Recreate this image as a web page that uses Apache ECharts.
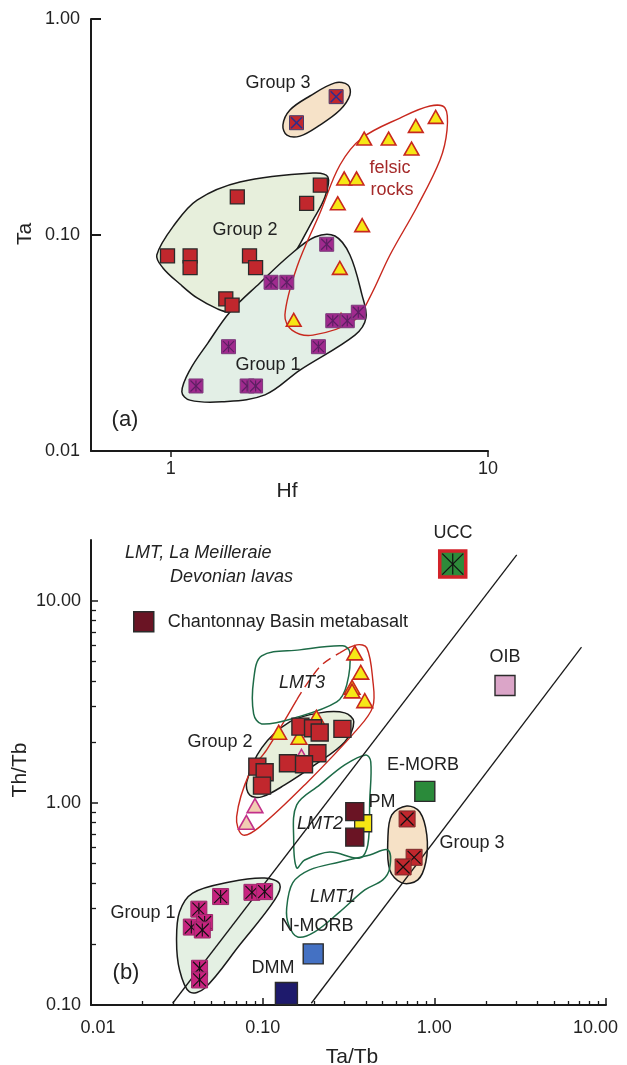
<!DOCTYPE html>
<html><head><meta charset="utf-8">
<script src="https://cdn.jsdelivr.net/npm/echarts@6/dist/echarts.min.js"></script>
<style>html,body{margin:0;padding:0;background:#fff}#c{width:627px;height:1065px}</style>
</head><body><div id="c"></div>
<script>
// ================= DATA =================
// ---- Panel (a): Ta vs Hf ----
const aTicksX = [1, 10];
const aTicksY = [0.01, 0.1, 1];
const aGroup1 = [[3.10,0.0906],[2.07,0.0604],[2.32,0.0604],[3.24,0.0401],[3.60,0.0401],[3.90,0.0439],[2.92,0.0304],[1.52,0.0304],[1.20,0.020],[1.74,0.020],[1.85,0.020]];
const aGroup2 = [[1.62,0.150],[2.68,0.140],[2.96,0.170],[0.976,0.080],[1.15,0.080],[1.15,0.0706],[1.77,0.080],[1.85,0.0706],[1.49,0.0506],[1.56,0.0474]];
const aGroup3 = [[2.49,0.331],[3.32,0.437]];
const aFelsic = [[4.07,0.277],[4.86,0.277],[5.92,0.317],[6.84,0.349],[5.74,0.249],[3.52,0.181],[3.85,0.181],[3.36,0.139],[4.01,0.110],[3.41,0.0698],[2.44,0.0401],[3.44,0.0401]];
const aEnvGroup1 = [[1.536,0.0440],[1.909,0.0600],[2.374,0.0808],[2.846,0.0979],[3.292,0.0989],[3.670,0.0808],[4.005,0.0528],[4.123,0.0413],[3.806,0.0344],[2.553,0.0237],[1.980,0.0182],[1.448,0.0169],[1.148,0.0172],[1.083,0.0188],[1.148,0.0237],[1.308,0.0316]];
const aEnvGroup2 = [[0.903,0.0808],[1.030,0.1124],[1.210,0.1452],[1.651,0.1759],[2.805,0.1936],[3.128,0.1855],[3.061,0.150],[2.805,0.1173],[2.323,0.0726],[1.775,0.0474],[1.536,0.0440],[1.407,0.0454],[1.210,0.0511],[1.068,0.0593],[0.944,0.0704]];
const aEnvGroup3 = [[2.256,0.323],[2.374,0.379],[2.745,0.440],[3.292,0.506],[3.617,0.495],[3.670,0.445],[3.413,0.379],[2.952,0.323],[2.553,0.287],[2.323,0.290]];
const aEnvFelsic = [[2.289,0.0426],[2.498,0.0711],[2.952,0.1264],[3.413,0.2109],[4.005,0.2812],[5.278,0.348],[6.563,0.3956],[7.319,0.3873],[7.426,0.306],[7.058,0.2225],[5.970,0.1348],[4.908,0.0808],[4.244,0.0516],[3.806,0.0404],[2.805,0.0344],[2.409,0.0363]];

// ---- Panel (b): Th/Tb vs Ta/Tb ----
const bTicksX = [0.01, 0.1, 1, 10];
const bMinorX = [0.02,0.03,0.04,0.05,0.06,0.07,0.08,0.09,0.2,0.3,0.4,0.5,0.6,0.7,0.8,0.9,2,3,4,5,6,7,8,9];
const bTicksY = [0.1, 1, 10];
const bMinorY = [0.2,0.3,0.4,0.5,0.6,0.7,0.8,0.9,2,3,4,5,6,7,8,9];
const bGroup1 = [[0.0569,0.344],[0.0866,0.361],[0.1027,0.364],[0.0425,0.298],[0.0384,0.243],[0.0459,0.256],[0.0445,0.235],[0.0429,0.152],[0.0429,0.133]];
const bGroup2 = [[0.1659,2.386],[0.1965,2.343],[0.2149,2.229],[0.2915,2.325],[0.2084,1.762],[0.1404,1.572],[0.1741,1.554],[0.0931,1.512],[0.1027,1.419],[0.0991,1.218]];
const bGroup3 = [[0.694,0.833],[0.7624,0.538],[0.6577,0.482]];
const bFelsic = [[0.344,5.465],[0.3727,4.386],[0.3317,3.697],[0.3317,3.544],[0.3933,3.173],[0.2056,2.626],[0.1240,2.213],[0.1628,2.091]];
const bFelsicPink = [[0.1682,1.684],[0.0902,0.959],[0.0804,0.793]];
const bChantonnay = [[0.344,0.906],[0.344,0.677]];
const bUCC = [[1.28,15.2]];
const bOIB = [[2.58,3.81]];
const bEMORB = [[0.88,1.14]];
const bPM = [[0.385,0.793]];
const bNMORB = [[0.197,0.179]];
const bDMM = [[0.1375,0.114]];
const bLine1 = [[0.0299,0.102],[3.02,16.9]];
const bLine2 = [[0.192,0.102],[7.2,5.9]];
const bEnvGroup1 = [[0.0391,0.358],[0.0642,0.406],[0.1027,0.425],[0.1256,0.397],[0.1175,0.331],[0.0734,0.198],[0.0459,0.121],[0.0375,0.116],[0.0328,0.149],[0.0315,0.210],[0.0328,0.289]];
const bEnvGroup2 = [[0.0807,1.270],[0.0987,1.872],[0.1437,2.518],[0.2150,2.790],[0.3006,2.790],[0.3393,2.518],[0.3006,2.004],[0.2010,1.542],[0.1344,1.228],[0.0987,1.071],[0.0840,1.095]];
const bEnvGroup3 = [[0.691,0.966],[0.823,0.902],[0.904,0.694],[0.892,0.510],[0.801,0.416],[0.646,0.402],[0.550,0.466],[0.536,0.656],[0.565,0.872]];
const bEnvFelsic = [[0.0765,0.694],[0.0705,0.853],[0.0840,1.408],[0.1055,1.830],[0.1579,3.235],[0.2150,4.713],[0.2812,5.528],[0.3532,6.055],[0.4042,5.851],[0.4379,4.063],[0.4379,2.987],[0.3532,2.298],[0.1805,1.256],[0.0961,0.761]];
const bEnvLMT3 = [[0.0987,5.342],[0.1643,5.719],[0.2927,5.986],[0.3216,5.590],[0.3089,3.838],[0.2701,3.162],[0.1537,2.635],[0.0987,2.461],[0.0886,2.758],[0.0886,4.063]];
const bEnvLMT2 = [[0.1579,0.978],[0.2150,1.228],[0.3006,1.542],[0.3988,1.728],[0.4263,1.596],[0.4206,1.035],[0.4097,0.620],[0.3678,0.534],[0.2459,0.572],[0.1758,0.522],[0.1579,0.477],[0.1516,0.656]];
const bEnvLMT1 = [[0.138,0.302],[0.1496,0.402],[0.1879,0.466],[0.2812,0.510],[0.4206,0.553],[0.5356,0.585],[0.55,0.477],[0.501,0.416],[0.3935,0.371],[0.2812,0.289],[0.201,0.230],[0.160,0.217],[0.1418,0.249]];

// ================= RENDER =================
const FONT = "'Liberation Sans', Arial, Helvetica, sans-serif";
const INK = '#1a1a1a';

function markerSeries(name, data, xi, yi, o) {
  return {
    type: 'custom', name: name, xAxisIndex: xi, yAxisIndex: yi, data: data, z: 3, clip: false, silent: true,
    renderItem: function (params, api) {
      const p = api.coord([api.value(0), api.value(1)]);
      const s = o.size, h = s / 2;
      const ch = [];
      if (o.shape === 'tri') {
        ch.push({type: 'polygon', shape: {points: [[p[0], p[1] - h * 1.05], [p[0] - h * 1.05, p[1] + h * 0.8], [p[0] + h * 1.05, p[1] + h * 0.8]]},
          style: {fill: o.fill, stroke: o.stroke, lineWidth: o.lw || 1.5, lineJoin: 'miter'}});
      } else {
        ch.push({type: 'rect', shape: {x: p[0] - h, y: p[1] - h, width: s, height: s},
          style: {fill: o.fill, stroke: o.stroke, lineWidth: o.lw || 1.2}});
      }
      if (o.cross) {
        const c = h - (o.inset || 1.5);
        const ls = {stroke: o.cross, lineWidth: o.clw || 1};
        ch.push({type: 'line', shape: {x1: p[0] - c, y1: p[1] - c, x2: p[0] + c, y2: p[1] + c}, style: ls});
        ch.push({type: 'line', shape: {x1: p[0] - c, y1: p[1] + c, x2: p[0] + c, y2: p[1] - c}, style: ls});
        if (o.star) ch.push({type: 'line', shape: {x1: p[0], y1: p[1] - c, x2: p[0], y2: p[1] + c}, style: ls});
      }
      return {type: 'group', children: ch};
    }
  };
}

function envSeries(verts, xi, yi, style) {
  return {
    type: 'custom', xAxisIndex: xi, yAxisIndex: yi, data: verts, z: 1, clip: false, silent: true,
    renderItem: function (params, api) {
      if (params.dataIndex !== 0) return null;
      const pts = verts.map(function (v) { return api.coord(v); });
      return {type: 'polygon', shape: {points: pts, smooth: 0.35}, style: style};
    }
  };
}

// felsic envelope in (b): solid outline, with the upper-left stretch (through LMT3) dashed
function felsicSeriesB(verts) {
  return {
    type: 'custom', xAxisIndex: 1, yAxisIndex: 1, data: verts, z: 1, clip: false, silent: true,
    renderItem: function (params, api) {
      if (params.dataIndex !== 0) return null;
      const pts = verts.map(function (v) { return api.coord(v); });
      const solid = pts.slice(6).concat(pts.slice(0, 5));
      const dashed = pts.slice(4, 7);
      return {type: 'group', children: [
        {type: 'polyline', shape: {points: solid, smooth: 0.35}, style: {fill: 'none', stroke: '#c8281e', lineWidth: 1.4}},
        {type: 'polyline', shape: {points: dashed, smooth: 0.35}, style: {fill: 'none', stroke: '#c8281e', lineWidth: 1.4, lineDash: [9, 6]}}
      ]};
    }
  };
}

function lineSeries(data) {
  return {type: 'line', xAxisIndex: 1, yAxisIndex: 1, data: data, showSymbol: false, symbol: 'none', silent: true, z: 2,
    lineStyle: {color: INK, width: 1.3}};
}

function txt(text, x, y, o) {
  o = o || {};
  return {type: 'text', x: x, y: y, rotation: o.rot || 0, z: 100, silent: true,
    style: {text: text, fontSize: o.size || 18, fontFamily: FONT, fontStyle: o.italic ? 'italic' : 'normal',
      fill: o.color || '#222', align: o.align || 'center', verticalAlign: 'middle'}};
}

const fmt2 = function (v) { return Number(v).toFixed(2); };
const axisLineStyle = {lineStyle: {color: INK, width: 2}};
const lbl = {fontSize: 18, color: '#222', fontFamily: FONT};
const richB = {
  s: {fontSize: 18, color: '#222', fontFamily: FONT, padding: [0, 0, 0, 14]},
  e: {fontSize: 18, color: '#222', fontFamily: FONT, padding: [0, 21, 0, 0]},
  n: {fontSize: 18, color: '#222', fontFamily: FONT}
};
const fmtBX = function (v) {
  const t = Number(v).toFixed(2);
  if (v < 0.015) return '{s|' + t + '}';
  if (v > 5) return '{e|' + t + '}';
  return '{n|' + t + '}';
};

const RED = '#c1272d', DARKB = '#2b2b2b';

const option = {
  backgroundColor: '#fff',
  animation: false,
  grid: [
    {left: 91, top: 19, width: 397, height: 432, containLabel: false, outerBoundsMode: 'none'},
    {left: 91, top: 540, width: 515, height: 465, containLabel: false, outerBoundsMode: 'none'}
  ],
  xAxis: [
    {type: 'log', logBase: 10, gridIndex: 0, position: 'bottom', min: 0.56, max: 10, axisLine: axisLineStyle,
      axisTick: {customValues: aTicksX, inside: false, length: 6, lineStyle: {color: INK, width: 1.5}},
      axisLabel: Object.assign({customValues: aTicksX, margin: 9, formatter: function (v) { return String(Math.round(v)); }}, lbl),
      splitLine: {show: false}, minorTick: {show: false}},
    {type: 'log', logBase: 10, gridIndex: 1, position: 'bottom', min: 0.01, max: 10, axisLine: axisLineStyle,
      axisTick: {customValues: bTicksX, inside: true, length: 7, lineStyle: {color: INK, width: 1.5}},
      axisLabel: Object.assign({customValues: bTicksX, margin: 14, formatter: fmtBX, rich: richB}, lbl),
      splitLine: {show: false}},
    {type: 'log', logBase: 10, gridIndex: 1, position: 'bottom', offset: 0, min: 0.01, max: 10, axisLine: {show: false},
      axisTick: {customValues: bMinorX, inside: true, length: 4, lineStyle: {color: INK, width: 1.3}},
      axisLabel: {show: false}, splitLine: {show: false}}
  ],
  yAxis: [
    {type: 'log', logBase: 10, gridIndex: 0, position: 'left', min: 0.01, max: 1, axisLine: axisLineStyle,
      axisTick: {customValues: aTicksY, inside: true, length: 10, lineStyle: {color: INK, width: 2}},
      axisLabel: Object.assign({customValues: aTicksY, margin: 11, formatter: fmt2}, lbl),
      splitLine: {show: false}},
    {type: 'log', logBase: 10, gridIndex: 1, position: 'left', min: 0.1, max: 20, axisLine: axisLineStyle,
      axisTick: {customValues: bTicksY, inside: true, length: 7, lineStyle: {color: INK, width: 1.5}},
      axisLabel: Object.assign({customValues: bTicksY, margin: 10, formatter: fmt2}, lbl),
      splitLine: {show: false}},
    {type: 'log', logBase: 10, gridIndex: 1, position: 'left', offset: 0, min: 0.1, max: 20, axisLine: {show: false},
      axisTick: {customValues: bMinorY, inside: true, length: 5, lineStyle: {color: INK, width: 1.3}},
      axisLabel: {show: false}, splitLine: {show: false}}
  ],
  legend: {
    left: 128, top: 606, itemWidth: 20, itemHeight: 20, selectedMode: false, orient: 'vertical',
    data: [{name: 'Chantonnay Basin metabasalt', icon: 'rect', itemStyle: {color: '#6a1424', borderColor: DARKB, borderWidth: 1.5}}],
    textStyle: {fontSize: 18, color: '#222', fontFamily: FONT, padding: [0, 0, 0, 9]}
  },
  series: [
    // ---- panel (a) envelopes ----
    envSeries(aEnvGroup2, 0, 0, {fill: '#e7efdc', stroke: INK, lineWidth: 1.5}),
    envSeries(aEnvGroup1, 0, 0, {fill: '#e3efe6', stroke: INK, lineWidth: 1.5}),
    envSeries(aEnvGroup3, 0, 0, {fill: '#f6e2c8', stroke: INK, lineWidth: 1.5}),
    envSeries(aEnvFelsic, 0, 0, {fill: 'none', stroke: '#c8281e', lineWidth: 1.4}),
    // ---- panel (a) points ----
    markerSeries('a felsic', aFelsic, 0, 0, {shape: 'tri', size: 14, fill: '#f6e716', stroke: '#c8281e', lw: 1.6}),
    markerSeries('a group 2', aGroup2, 0, 0, {size: 14, fill: RED, stroke: DARKB, lw: 1.3}),
    markerSeries('a group 1', aGroup1, 0, 0, {size: 14, fill: '#a02a8e', stroke: '#7a3a7a', lw: 1, cross: '#5d1f63', clw: 1.2, star: true}),
    markerSeries('a group 3', aGroup3, 0, 0, {size: 14, fill: RED, stroke: '#4a3a6a', lw: 1, cross: '#2b2f8f', clw: 1.5}),
    // ---- panel (b) envelopes ----
    envSeries(bEnvGroup1, 1, 1, {fill: '#e4f0e3', stroke: INK, lineWidth: 1.5}),
    envSeries(bEnvGroup2, 1, 1, {fill: '#e7efdb', stroke: INK, lineWidth: 1.5}),
    envSeries(bEnvGroup3, 1, 1, {fill: '#f6e1c6', stroke: INK, lineWidth: 1.5}),
    felsicSeriesB(bEnvFelsic),
    envSeries(bEnvLMT3, 1, 1, {fill: 'none', stroke: '#1d6b47', lineWidth: 1.5}),
    envSeries(bEnvLMT2, 1, 1, {fill: 'none', stroke: '#1d6b47', lineWidth: 1.5}),
    envSeries(bEnvLMT1, 1, 1, {fill: 'none', stroke: '#1d6b47', lineWidth: 1.5}),
    // ---- panel (b) reference lines ----
    lineSeries(bLine1),
    lineSeries(bLine2),
    // ---- panel (b) points ----
    markerSeries('b felsic', bFelsic, 1, 1, {shape: 'tri', size: 15, fill: '#f6e716', stroke: '#c8281e', lw: 1.6}),
    markerSeries('b felsic pink', bFelsicPink, 1, 1, {shape: 'tri', size: 15, fill: '#f1cdb2', stroke: '#c2308a', lw: 1.6}),
    markerSeries('b group 2', bGroup2, 1, 1, {size: 17, fill: RED, stroke: DARKB, lw: 1.4}),
    markerSeries('b group 1', bGroup1, 1, 1, {size: 16, fill: '#c8237f', stroke: '#9a2a6a', lw: 1, cross: '#111', clw: 1.1, star: true}),
    markerSeries('b group 3', bGroup3, 1, 1, {size: 16, fill: RED, stroke: '#7a2a2a', lw: 1, cross: '#111', clw: 1.2}),
    markerSeries('PM', bPM, 1, 1, {size: 17, fill: '#f5e614', stroke: DARKB, lw: 1.3}),
    markerSeries('Chantonnay Basin metabasalt', bChantonnay, 1, 1, {size: 18, fill: '#6a1424', stroke: DARKB, lw: 1.4}),
    markerSeries('E-MORB', bEMORB, 1, 1, {size: 20, fill: '#2a8a3a', stroke: DARKB, lw: 1.4}),
    markerSeries('OIB', bOIB, 1, 1, {size: 20, fill: '#dba5c8', stroke: DARKB, lw: 1.4}),
    markerSeries('N-MORB', bNMORB, 1, 1, {size: 20, fill: '#4471c3', stroke: DARKB, lw: 1.4}),
    markerSeries('DMM', bDMM, 1, 1, {size: 22, fill: '#1e1a6c', stroke: DARKB, lw: 1.4}),
    markerSeries('UCC', bUCC, 1, 1, {size: 26, fill: '#2e8b3a', stroke: '#d2232a', lw: 3.5, cross: '#111', clw: 1.2, star: true, inset: 2.5})
  ],
  graphic: {elements: [
    // panel (a)
    txt('Ta', 25, 234, {size: 21, rot: Math.PI / 2}),
    txt('Hf', 287, 491, {size: 21}),
    txt('Group 3', 278, 83),
    txt('Group 2', 245, 230),
    txt('Group 1', 268, 365),
    txt('felsic', 390, 168, {color: '#a52a2a'}),
    txt('rocks', 392, 190, {color: '#a52a2a'}),
    txt('(a)', 125, 420, {size: 22}),
    // panel (b)
    txt('Th/Tb', 20, 770, {size: 21, rot: Math.PI / 2}),
    txt('Ta/Tb', 352, 1057, {size: 21}),
    txt('LMT, La Meilleraie', 125, 553, {italic: true, align: 'left'}),
    txt('Devonian lavas', 170, 577, {italic: true, align: 'left'}),
    txt('UCC', 453, 533),
    txt('OIB', 505, 657),
    txt('E-MORB', 423, 765),
    txt('PM', 382, 802),
    txt('LMT3', 302, 683, {italic: true}),
    txt('LMT2', 320, 824, {italic: true}),
    txt('LMT1', 333, 897, {italic: true}),
    txt('Group 2', 220, 742),
    txt('Group 3', 472, 843),
    txt('Group 1', 143, 913),
    txt('N-MORB', 317, 926),
    txt('DMM', 273, 968),
    txt('(b)', 126, 973, {size: 22})
  ]}
};

const chart = echarts.init(document.getElementById('c'), null, {renderer: 'canvas', width: 627, height: 1065});
chart.setOption(option);
</script>
</body></html>
